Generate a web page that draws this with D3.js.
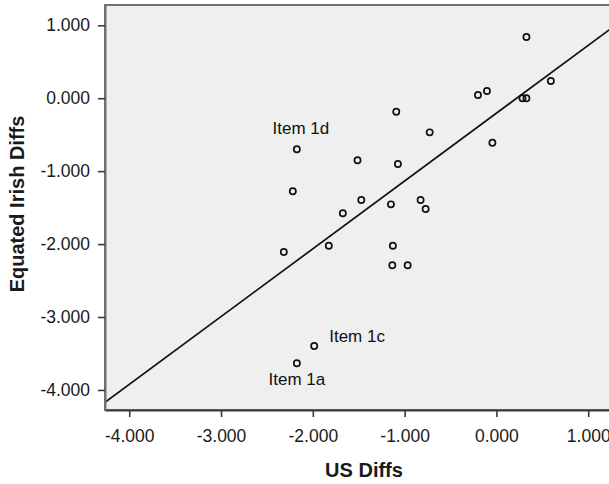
<!DOCTYPE html>
<html>
<head>
<meta charset="utf-8">
<script src="https://cdn.jsdelivr.net/npm/d3@7"></script>
<style>
  body { margin: 0; background: #fff; }
  svg { display: block; font-family: "Liberation Sans", Arial, sans-serif; }
</style>
</head>
<body>
<div class="chart"></div>
<script>
// values
var usDiffs = [0.327, 0.593, -0.201, -0.103, 0.284, 0.327, -1.091, -0.727, -0.044, -2.174,
  -1.513, -1.073, -2.218, -1.472, -1.149, -0.826, -0.771, -1.673, -2.316, -1.826,
  -1.128, -1.134, -0.967, -1.985, -2.174];
var irishDiffs = [0.839, 0.236, 0.044, 0.099, 0.0, 0.0, -0.185, -0.468, -0.610, -0.700,
  -0.851, -0.902, -1.276, -1.396, -1.455, -1.396, -1.519, -1.578, -2.109, -2.022,
  -2.022, -2.291, -2.291, -3.397, -3.634];
var xTicks = [-4, -3, -2, -1, 0, 1];
var yTicks = [1, 0, -1, -2, -3, -4];
var itemLabels = [
  {name: 'Item 1d', i: 9},
  {name: 'Item 1c', i: 23},
  {name: 'Item 1a', i: 24}
];
var fitSlope = 0.93;
var fitIntercept = -0.205;

var W = 609, H = 484;
var pLeft = 105, pTop = 5, pRight = 613, pBottom = 410;

var svg = d3.select('div.chart').append('svg')
  .attr('width', W)
  .attr('height', H);

var x = d3.scaleLinear().domain([-4.264, 1.27]).range([pLeft, pRight]);
var y = d3.scaleLinear().domain([-4.275, 1.278]).range([pBottom, pTop]);

var fmt = d3.formatLocale({decimal: '.', thousands: ',', grouping: [3], currency: ['', ''], minus: '-'}).format('.3f');

// plot area
svg.append('rect')
  .attr('x', pLeft).attr('y', pTop)
  .attr('width', pRight - pLeft).attr('height', pBottom - pTop)
  .style('fill', '#efefef')
  .style('stroke', '#707070')
  .style('stroke-width', 2);

svg.append('clipPath').attr('id', 'plotclip')
  .append('rect')
  .attr('x', pLeft).attr('y', pTop)
  .attr('width', pRight - pLeft).attr('height', pBottom - pTop);

var plot = svg.append('g').attr('clip-path', 'url(#plotclip)');

// fit line
var xd = x.domain();
plot.append('line')
  .attr('x1', x(xd[0])).attr('y1', y(fitSlope * xd[0] + fitIntercept))
  .attr('x2', x(xd[1])).attr('y2', y(fitSlope * xd[1] + fitIntercept))
  .style('stroke', '#111')
  .style('stroke-width', 1.7);

// points
plot.selectAll('circle')
  .data(usDiffs)
  .enter()
  .append('circle')
  .attr('cx', function (d) { return x(d); })
  .attr('cy', function (d, i) { return y(irishDiffs[i]); })
  .attr('r', 3.1)
  .style('fill', 'none')
  .style('stroke', '#111')
  .style('stroke-width', 1.7);

// point labels
var labelOffsets = {
  'Item 1d': {dx: 4, dy: -15, anchor: 'middle'},
  'Item 1c': {dx: 15, dy: -4, anchor: 'start'},
  'Item 1a': {dx: 0, dy: 22, anchor: 'middle'}
};
svg.selectAll('text.item')
  .data(itemLabels)
  .enter()
  .append('text')
  .attr('class', 'item')
  .attr('x', function (d) { return x(usDiffs[d.i]) + labelOffsets[d.name].dx; })
  .attr('y', function (d) { return y(irishDiffs[d.i]) + labelOffsets[d.name].dy; })
  .attr('text-anchor', function (d) { return labelOffsets[d.name].anchor; })
  .style('font-size', '17px')
  .style('fill', '#111')
  .text(function (d) { return d.name; });

// axes
var xAxis = d3.axisBottom(x).tickValues(xTicks).tickFormat(fmt)
  .tickSize(7).tickSizeOuter(0).tickPadding(13);
var yAxis = d3.axisLeft(y).tickValues(yTicks).tickFormat(fmt)
  .tickSize(7).tickSizeOuter(0).tickPadding(8);

var gx = svg.append('g').attr('transform', 'translate(0,' + pBottom + ')').call(xAxis);
var gy = svg.append('g').attr('transform', 'translate(' + pLeft + ',0)').call(yAxis);

[gx, gy].forEach(function (g) {
  g.select('.domain').style('stroke', '#3a3a3a').style('stroke-width', 2);
  g.selectAll('.tick line').style('stroke', '#3a3a3a').style('stroke-width', 1.6);
  g.selectAll('.tick text')
    .style('font-size', '17.5px')
    .style('font-family', '"Liberation Sans", Arial, sans-serif')
    .style('fill', '#1a1a1a');
});
gy.select('.domain').style('stroke', '#707070');

// axis titles
svg.append('text')
  .attr('x', 364).attr('y', 477)
  .attr('text-anchor', 'middle')
  .style('font-size', '20px')
  .style('font-weight', 'bold')
  .style('fill', '#1a1a1a')
  .text('US Diffs');

svg.append('text')
  .attr('transform', 'translate(24,204) rotate(-90)')
  .attr('text-anchor', 'middle')
  .style('font-size', '20px')
  .style('font-weight', 'bold')
  .style('fill', '#1a1a1a')
  .text('Equated Irish Diffs');
</script>
</body>
</html>
